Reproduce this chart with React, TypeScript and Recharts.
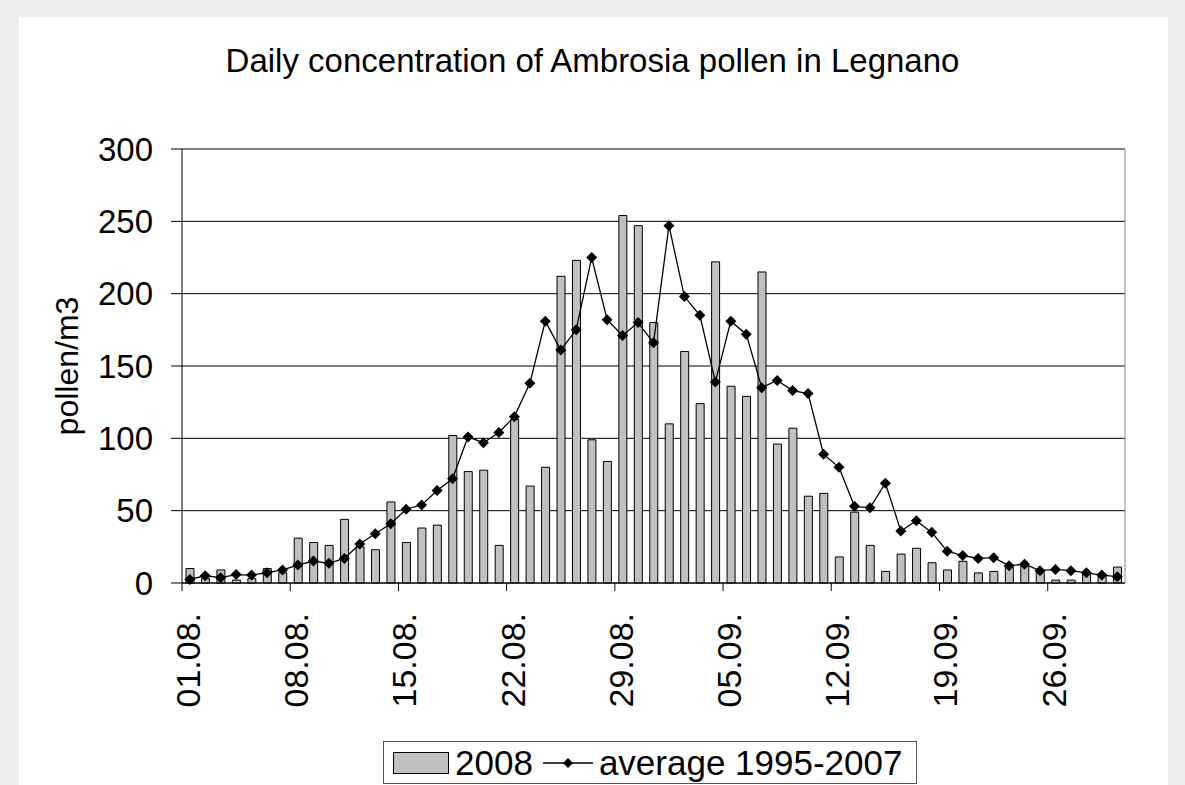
import React from "react";
import {
  ComposedChart,
  Bar,
  Line,
  XAxis,
  YAxis,
  CartesianGrid,
  Legend,
  Label,
} from "recharts";

// 01.08. - 30.09.
const dates = [
  "01.08.", "02.08.", "03.08.", "04.08.", "05.08.", "06.08.", "07.08.", "08.08.",
  "09.08.", "10.08.", "11.08.", "12.08.", "13.08.", "14.08.", "15.08.", "16.08.",
  "17.08.", "18.08.", "19.08.", "20.08.", "21.08.", "22.08.", "23.08.", "24.08.",
  "25.08.", "26.08.", "27.08.", "28.08.", "29.08.", "30.08.", "31.08.",
  "01.09.", "02.09.", "03.09.", "04.09.", "05.09.", "06.09.", "07.09.", "08.09.",
  "09.09.", "10.09.", "11.09.", "12.09.", "13.09.", "14.09.", "15.09.", "16.09.",
  "17.09.", "18.09.", "19.09.", "20.09.", "21.09.", "22.09.", "23.09.", "24.09.",
  "25.09.", "26.09.", "27.09.", "28.09.", "29.09.", "30.09.",
];

const pollen2008 = [
  10, 3, 9, 2, 3, 10, 7, 31, 28, 26, 44, 25, 23, 56, 28, 38, 40, 102, 77, 78,
  26, 113, 67, 80, 212, 223, 99, 84, 254, 247, 180, 110, 160, 124, 222, 136,
  129, 215, 96, 107, 60, 62, 18, 49, 26, 8, 20, 24, 14, 9, 15, 7, 8, 11, 12,
  8, 2, 2, 6, 5, 11,
];

const average19952007 = [
  2.5, 5, 3.7, 5.8, 5.5, 7, 9, 12.4, 15.2, 13.6, 17, 27, 34, 41, 51, 54, 64,
  72, 101, 97, 104, 115, 138, 181, 161, 175, 225, 182, 171, 180, 166, 247,
  198, 185, 139, 181, 172, 135, 140, 133, 131, 89, 80, 53, 52, 69, 36, 43, 35,
  22, 19, 17, 17.5, 12, 13, 8.5, 9.4, 8.5, 7, 5.5, 4.4,
];

const xTicks = ["01.08.", "08.08.", "15.08.", "22.08.", "29.08.", "05.09.", "12.09.", "19.09.", "26.09."];
const yTicks = [0, 50, 100, 150, 200, 250, 300];

const data = dates.map((d, i) => ({
  date: d,
  y2008: pollen2008[i],
  avg: average19952007[i],
}));

const FONT = '"Liberation Sans", Arial, sans-serif';
const PLOT_LEFT = 182;
const PLOT_RIGHT = 1125;
const BAND = (PLOT_RIGHT - PLOT_LEFT) / dates.length;

// tick sits on the category boundary, like excel does
const DateTick = (props: any) => {
  const { x, y, payload } = props;
  const tx = x - BAND / 2;
  return (
    <g>
      <line x1={tx} x2={tx} y1={y - 8} y2={y} stroke="#000" />
      <text
        transform={`translate(${tx + 18},${y + 22}) rotate(-90)`}
        textAnchor="end"
        fontSize={34}
        fontFamily={FONT}
        fill="#000"
      >
        {payload.value}
      </text>
    </g>
  );
};

const Diamond = (props: any) => {
  const { cx, cy, index } = props;
  if (cx == null || cy == null) return null;
  const r = 5.5;
  return (
    <path
      key={`d-${index}`}
      d={`M${cx},${cy - r}L${cx + r},${cy}L${cx},${cy + r}L${cx - r},${cy}Z`}
      fill="#000"
    />
  );
};

const YTitle = () => (
  <text
    transform="translate(78,366) rotate(-90)"
    textAnchor="middle"
    fontSize={32}
    fontFamily={FONT}
    fill="#000"
  >
    pollen/m3
  </text>
);

const LegendBox = () => (
  <div
    style={{
      boxSizing: "border-box",
      height: 43,
      width: "100%",
      border: "1px solid #555",
      background: "#fff",
      display: "flex",
      alignItems: "center",
      fontFamily: FONT,
      fontSize: 35,
      color: "#000",
      paddingLeft: 9,
      whiteSpace: "nowrap",
    }}
  >
    <svg width={56} height={22} style={{ marginRight: 6 }}>
      <rect x={0.5} y={0.5} width={55} height={21} fill="#c0c0c0" stroke="#000" />
    </svg>
    <span>2008</span>
    <svg width={50} height={14} style={{ marginLeft: 10, marginRight: 6 }}>
      <line x1={0} x2={50} y1={7} y2={7} stroke="#000" strokeWidth={1.3} />
      <path d="M25,2L30,7L25,12L20,7Z" fill="#000" />
    </svg>
    <span>average 1995-2007</span>
  </div>
);

export default function App() {
  return (
    <div
      style={{
        position: "absolute",
        top: 0,
        left: 0,
        width: 1185,
        height: 785,
        background: "#eeeeee",
        overflow: "hidden",
      }}
    >
      <div
        style={{
          position: "absolute",
          left: 19,
          top: 17,
          width: 1149,
          height: 768,
          background: "#fff",
        }}
      />
      <div
        style={{
          position: "absolute",
          top: 45,
          left: 0,
          width: 1185,
          textAlign: "center",
          fontFamily: FONT,
          fontSize: 33,
          lineHeight: "32px",
          color: "#000",
        }}
      >
        Daily concentration of Ambrosia pollen in Legnano
      </div>
      <div style={{ position: "absolute", top: 0, left: 0 }}>
        <ComposedChart
          width={1185}
          height={785}
          data={data}
          margin={{ top: 149, right: 1185 - PLOT_RIGHT - 1, bottom: 1, left: 0 }}
        >
          <CartesianGrid vertical={false} stroke="#000" />
          <XAxis
            dataKey="date"
            ticks={xTicks}
            interval={0}
            height={158}
            tickSize={8}
            tickMargin={0}
            tickLine={false}
            axisLine={{ stroke: "#000" }}
            tick={<DateTick />}
          />
          <YAxis
            width={PLOT_LEFT}
            domain={[0, 300]}
            ticks={yTicks}
            tickSize={11}
            tickMargin={18}
            axisLine={{ stroke: "#000" }}
            tickLine={{ stroke: "#000" }}
            tick={{ fontSize: 33, fontFamily: FONT, fill: "#000" }}
          >
            <Label content={<YTitle />} />
          </YAxis>
          <YAxis
            yAxisId="right"
            orientation="right"
            width={1}
            domain={[0, 300]}
            tick={false}
            tickLine={false}
            axisLine={{ stroke: "#888" }}
          />
          <Bar
            dataKey="y2008"
            name="2008"
            barSize={8}
            fill="#c0c0c0"
            stroke="#000"
            strokeWidth={1}
            isAnimationActive={false}
          />
          <Line
            dataKey="avg"
            name="average 1995-2007"
            type="linear"
            stroke="#000"
            strokeWidth={1.3}
            dot={<Diamond />}
            activeDot={false}
            isAnimationActive={false}
          />
          <Legend
            verticalAlign="bottom"
            wrapperStyle={{ left: 383, width: 534, bottom: 1 }}
            content={() => <LegendBox />}
          />
        </ComposedChart>
      </div>
    </div>
  );
}
